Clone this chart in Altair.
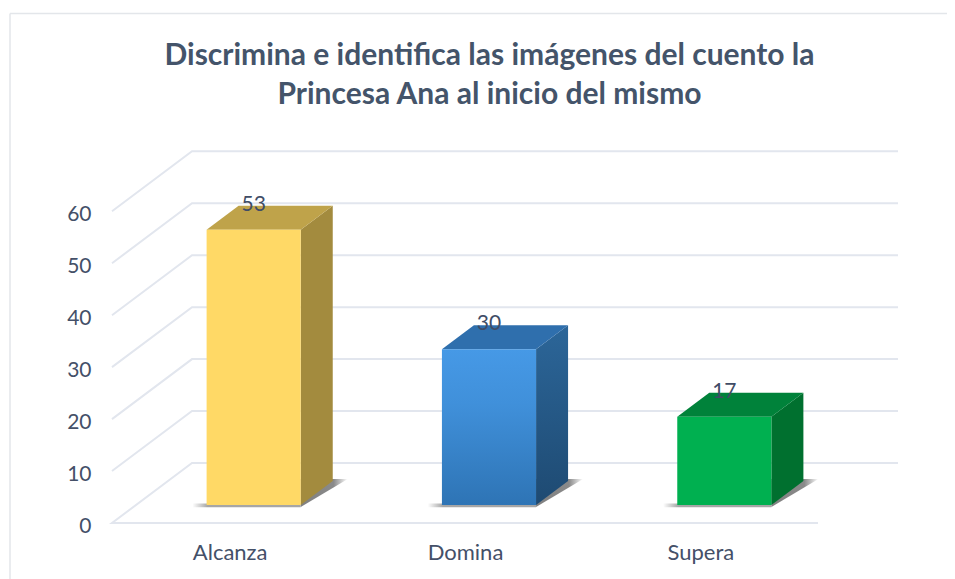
import json
import altair as alt
import pandas as pd

# --- chart values ---
categories = ["Alcanza", "Domina", "Supera"]
values = [53, 30, 17]
ticks = [0, 10, 20, 30, 40, 50, 60]
title_lines = ["Discrimina e identifica las imágenes del cuento la",
               "Princesa Ana al inicio del mismo"]

front_colors = ["#FFD966", None, "#00B050"]
top_colors = ["#BFA34A", "#2F6FAD", "#00823A"]
side_colors = ["#A38B3E", None, "#00702F"]
grid_color = "#E2E6EE"
text_color = "#44546A"
label_color = "#445068"
frame_color = "#E3E6EA"
FONT = "Lato"

# oblique projection of the 3-D box: depth in 0..1 shifts x and y
DX = 0.34      # category units per unit of depth
DY = 11.55     # value units per unit of depth
D0, D1 = 0.3, 0.7
HALF = 0.2

PW, PH = 787, 372
xscale = alt.Scale(domain=[-0.5, -0.5 + PW / 235.33], nice=False, zero=False)
yscale = alt.Scale(domain=[0, PH / 5.195], nice=False, zero=False)

x_axis = alt.Axis(
    values=[0, 1, 2], title=None, grid=False, domain=False, ticks=False,
    labelExpr=f"{json.dumps(categories)}[datum.value]", labelFont=FONT,
    labelFontSize=22, labelColor=label_color, labelPadding=29,
    labelBaseline="middle", labelFlush=False)
y_axis = alt.Axis(
    values=ticks, title=None, grid=False, domain=False, ticks=False,
    labelFont=FONT, labelFontSize=21, labelColor=label_color, labelPadding=21,
    labelOffset=3)


def X():
    return alt.X("x:Q", scale=xscale, axis=x_axis)


def Y():
    return alt.Y("y:Q", scale=yscale, axis=y_axis)


def grad(stops, x2=0, y2=1):
    return alt.LinearGradient(
        gradient="linear", x1=0, y1=0, x2=x2, y2=y2,
        stops=[alt.GradientStop(color=c, offset=o) for o, c in stops],
    )


domina_front = grad([(0, "#4699E6"), (0.35, "#4090DA"), (1, "#2E74B5")])
domina_side = grad([(0, "#2C6699"), (1, "#1E4A72")])
front_fill = [front_colors[0], domina_front, front_colors[2]]
side_fill = [side_colors[0], domina_side, side_colors[2]]

# --- gridlines ---
rows = []
for t in ticks:
    path = [(-0.5, 0), (-0.5, 1), (2.5, 1)]
    if t == 0:
        path = [(2.5, 0)] + path
    for i, (c, d) in enumerate(path):
        rows.append({"t": t, "o": i, "x": c + d * DX, "y": t + d * DY})
grid = alt.Chart(pd.DataFrame(rows)).mark_line(
    color=grid_color, strokeWidth=2, strokeCap="butt"
).encode(x=X(), y=Y(), detail="t:N", order="o:Q")

layers = [grid]
for i, (cat, v) in enumerate(zip(categories, values)):
    xl = i - HALF + D0 * DX
    xr = i + HALF + D0 * DX
    yb0 = D0 * DY
    yb1 = D1 * DY
    yt0 = v + D0 * DY
    yt1 = v + D1 * DY
    sx = DX * (D1 - D0)

    # soft shadow on the floor
    shadow_side = pd.DataFrame([
        {"x": xr, "y": yb0 - 0.4, "y2": yb1 + 0.4},
        {"x": xr + 0.2, "y": yb1 + 0.4, "y2": yb1 + 0.4},
    ])
    layers.append(alt.Chart(shadow_side).mark_area(
        color=grad([(0, "#808080"), (0.7, "#8A8A8A"), (1, "#FFFFFF")], x2=1, y2=0)
    ).encode(x=X(), y=Y(), y2="y2:Q"))
    shadow_left = pd.DataFrame([{"x": xl - 0.06, "x2": xr, "y": yb0 - 0.45, "y2": yb0 + 0.3}])
    layers.append(alt.Chart(shadow_left).mark_rect(
        color=grad([(0, "#FFFFFF"), (0.14, "#A6A6A6"), (1, "#A6A6A6")], x2=1, y2=0)
    ).encode(x=X(), x2="x2:Q", y=Y(), y2="y2:Q"))

    # right side face
    side = pd.DataFrame([
        {"x": xr, "y": yb0, "y2": yt0},
        {"x": xr + sx, "y": yb1, "y2": yt1},
    ])
    layers.append(alt.Chart(side).mark_area(color=side_fill[i], line=False).encode(
        x=X(), y=Y(), y2="y2:Q"))

    # top face
    top = pd.DataFrame([
        {"y": yt0, "x": xl, "x2": xr},
        {"y": yt1, "x": xl + sx, "x2": xr + sx},
    ])
    layers.append(alt.Chart(top).mark_area(color=top_colors[i], orient="horizontal").encode(
        x=X(), x2="x2:Q", y=Y()))

    # front face
    front = pd.DataFrame([{"x": xl, "x2": xr, "y": yb0, "y2": yt0}])
    layers.append(alt.Chart(front).mark_rect(color=front_fill[i]).encode(
        x=X(), x2="x2:Q", y=Y(), y2="y2:Q"))

# data labels
lab = pd.DataFrame({
    "x": [i + D0 * DX for i in range(len(values))],
    "y": [v + D0 * DY for v in values],
    "v": values,
})
labels = alt.Chart(lab).mark_text(
    font=FONT, fontSize=21, color="#404C66", baseline="middle", align="center", dy=-25
).encode(x=X(), y=Y(), text="v:Q")
layers.append(labels)

# outer frame of the chart
frame_top = alt.Chart(pd.DataFrame({"a": [0]})).mark_rule(
    color=frame_color, strokeWidth=1.5
).encode(x=alt.value(-102), x2=alt.value(835), y=alt.value(-137.5))
frame_left = alt.Chart(pd.DataFrame({"a": [0]})).mark_rule(
    color=frame_color, strokeWidth=1.5
).encode(x=alt.value(-102), y=alt.value(-137.5), y2=alt.value(430))
layers += [frame_top, frame_left]

chart = alt.layer(*layers).properties(
    width=PW,
    height=PH,
    padding={"left": 104, "top": 143, "right": 48, "bottom": 56},
    autosize=alt.AutoSizeParams(type="none"),
    title=alt.TitleParams(
        text=title_lines, anchor="middle", frame="group", dx=-16, offset=-97,
        font=FONT, fontSize=30, fontWeight="bold", color=text_color, lineHeight=39,
    ),
).configure(background="white").configure_view(stroke=None)

chart.save("out.html", embed_options={"renderer": "svg", "actions": False})
